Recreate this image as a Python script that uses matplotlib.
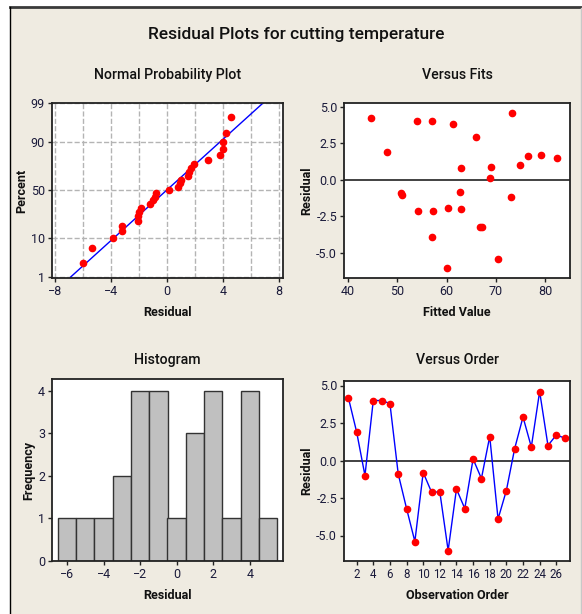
import matplotlib
matplotlib.use('Agg')
import matplotlib.pyplot as plt
from matplotlib.patches import Rectangle
from matplotlib.lines import Line2D
from statistics import NormalDist
import numpy as np

plt.rcParams['font.family'] = ['Roboto', 'DejaVu Sans']

# residuals in observation order, with their fitted values
residuals = [4.2, 1.9, -1.0, 4.0, 4.0, 3.8, -0.9, -3.2, -5.4, -0.8, -2.1, -2.1, -6.0, -1.9,
             -3.2, 0.1, -1.2, 1.6, -3.9, -2.0, 0.8, 2.9, 0.9, 4.6, 1.0, 1.7, 1.5]
fitted = [44.7, 48.0, 51.0, 54.0, 57.0, 61.2, 50.8, 66.8, 70.4, 62.8, 54.1, 57.2, 60.0, 60.2,
          67.1, 68.8, 73.1, 76.4, 57.0, 63.0, 63.0, 66.0, 68.9, 73.3, 74.9, 79.2, 82.4]
order = list(range(1, len(residuals) + 1))
pct_ticks = [1, 10, 50, 90, 99]
hist_edges = np.arange(-6.5, 6.0, 1.0)

W, H = 582, 614
bg = '#efebe1'
fig = plt.figure(figsize=(W / 100, H / 100), dpi=100)
fig.patch.set_facecolor('white')

# framed beige panel
fig.patches.append(Rectangle((10 / W, 0), 1 - 10 / W, 1 - 7 / H, transform=fig.transFigure,
                             facecolor=bg, edgecolor='none', zorder=-10))
fig.lines.append(Line2D([10 / W, 1], [1 - 7 / H, 1 - 7 / H], transform=fig.transFigure,
                        color='#3a3a3a', lw=2))
fig.lines.append(Line2D([10 / W, 10 / W], [0, 1 - 7 / H], transform=fig.transFigure,
                        color='black', lw=1))
fig.lines.append(Line2D([580.5 / W, 580.5 / W], [0, 1 - 8 / H], transform=fig.transFigure,
                        color='#c8c8c8', lw=1))

fig.text(296 / W, 1 - 35 / H, 'Residual Plots for cutting temperature', ha='center',
         va='center', fontsize=12.5, fontweight='medium', color='#111111')

tick_col = '#1a1a3a'


def make_ax(l, r, t, b):
    ax = fig.add_axes([l / W, 1 - b / H, (r - l) / W, (b - t) / H])
    ax.set_facecolor('white')
    for s in ax.spines.values():
        s.set_color('#222222')
        s.set_linewidth(1.3)
    ax.tick_params(labelsize=9, length=3, width=1, color='#222222', labelcolor=tick_col, pad=2)
    return ax


def title(ax, txt, pad):
    ax.set_title(txt, fontsize=10.2, fontweight='medium', pad=pad, color='#111111')


def label(ax, xl, yl):
    ax.set_xlabel(xl, fontsize=9, fontweight='bold', labelpad=6, color='#111111')
    ax.set_ylabel(yl, fontsize=9, fontweight='bold', labelpad=2, color='#111111')


mark = dict(marker='o', color='red', markersize=4.5, linestyle='none')

# normal probability plot
nd = NormalDist()
n = len(residuals)
srt = np.sort(residuals)
zs = [nd.inv_cdf((i - 0.3) / (n + 0.4)) for i in range(1, n + 1)]
mu, sd = np.mean(residuals), np.std(residuals, ddof=1)
zlo, zhi = nd.inv_cdf(0.01), nd.inv_cdf(0.99)

ax1 = make_ax(52, 283, 103, 278)
ax1.plot([mu + sd * zlo, mu + sd * zhi], [zlo, zhi], color='blue', lw=1)
ax1.plot(srt, zs, **mark)
ax1.set_xlim(-8.25, 8.3)
ax1.set_ylim(zlo * 1.01, zhi * 1.0)
ax1.set_xticks([-8, -4, 0, 4, 8])
ax1.set_xticks(np.arange(-8, 9, 2), minor=True)
ax1.tick_params(which='minor', length=0)
ax1.set_yticks([nd.inv_cdf(p / 100) for p in pct_ticks])
ax1.set_yticklabels([str(p) for p in pct_ticks])
ax1.grid(True, which='both', axis='x', linestyle='--', color='#b4b4b4', lw=1)
ax1.grid(True, which='major', axis='y', linestyle='--', color='#b4b4b4', lw=1)
ax1.set_axisbelow(True)
title(ax1, 'Normal Probability Plot', 17)
label(ax1, 'Residual', 'Percent')

# versus fits
ax2 = make_ax(344, 570, 103, 278)
ax2.axhline(0, color='#333333', lw=1.3)
ax2.plot(fitted, residuals, **mark)
ax2.set_xlim(39.2, 85)
ax2.set_ylim(-6.7, 5.25)
ax2.set_xticks([40, 50, 60, 70, 80])
ax2.set_yticks([5, 2.5, 0, -2.5, -5])
ax2.set_yticklabels(['5.0', '2.5', '0.0', '-2.5', '-5.0'])
title(ax2, 'Versus Fits', 17)
label(ax2, 'Fitted Value', 'Residual')

# histogram
ax3 = make_ax(52, 283, 379, 561)
ax3.hist(residuals, bins=hist_edges, color='#c0c0c0', edgecolor='#333333', lw=1)
ax3.set_xlim(-6.82, 5.82)
ax3.set_ylim(0, 4.27)
ax3.set_xticks([-6, -4, -2, 0, 2, 4])
ax3.set_yticks([0, 1, 2, 3, 4])
title(ax3, 'Histogram', 11)
label(ax3, 'Residual', 'Frequency')

# versus order
ax4 = make_ax(344, 570, 381, 561)
ax4.axhline(0, color='#333333', lw=1.3)
ax4.plot(order, residuals, color='blue', lw=1)
ax4.plot(order, residuals, **mark)
ax4.set_xlim(0.48, 27.65)
ax4.set_ylim(-6.7, 5.3)
ax4.set_xticks(range(2, 27, 2))
ax4.tick_params(axis='x', labelsize=8.3)
ax4.set_yticks([5, 2.5, 0, -2.5, -5])
ax4.set_yticklabels(['5.0', '2.5', '0.0', '-2.5', '-5.0'])
title(ax4, 'Versus Order', 12)
label(ax4, 'Observation Order', 'Residual')

fig.savefig('out.png', dpi=100, facecolor=fig.get_facecolor())
